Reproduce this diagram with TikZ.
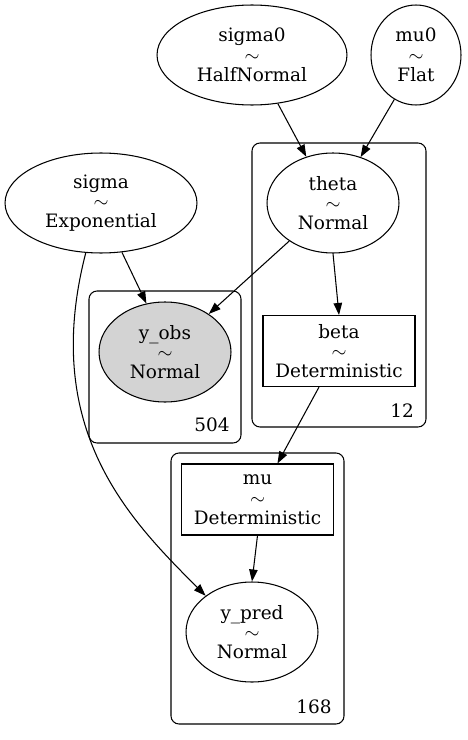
\documentclass[tikz,border=0pt]{standalone}
\usepackage{fontspec}
\setmainfont{DejaVu Serif}
\usetikzlibrary{shapes.geometric, arrows.meta}

\begin{document}
\begin{tikzpicture}[x=0.02cm, y=-0.02cm, line width=0.6pt,
    >={Triangle[length=0.24cm, width=0.17cm]},
    every node/.style={font=\fontsize{10.5}{11.3}\selectfont, align=center, inner sep=0pt},
    rv/.style={draw, ellipse, minimum height=2cm},
    det/.style={draw, rectangle, minimum width=3.04cm, minimum height=1.42cm},
    plate/.style={draw, rounded corners=0.16cm}]
  \useasboundingbox (0,0) rectangle (467,740);

  % Plates
  \draw[plate] (252,143) rectangle (426,427);
  \draw[plate] (89,291) rectangle (241,443);
  \draw[plate] (171,453) rectangle (344,724);
  \node (ntheta) at (402,411) {12};
  \node (nobs) at (212,425) {504};
  \node (npred) at (314,707) {168};

  % Variables
  \node[rv, minimum width=3.8cm] (sigmazero) at (252,55) {sigma0\\$\sim$\\HalfNormal};
  \node[rv, minimum width=1.8cm] (muzero) at (416,55) {mu0\\$\sim$\\Flat};
  \node[rv, minimum width=3.84cm] (sigma) at (101,203) {sigma\\$\sim$\\Exponential};
  \node[rv, minimum width=2.64cm] (theta) at (333,203) {theta\\$\sim$\\Normal};
  \node[rv, minimum width=2.64cm, fill={rgb,255:red,211;green,211;blue,211}] (yobs) at (165,352) {y\_obs\\$\sim$\\Normal};
  \node[det] (beta) at (339,351) {beta\\$\sim$\\Deterministic};
  \node[det] (mu) at (257.5,499.5) {mu\\$\sim$\\Deterministic};
  \node[rv, minimum width=2.64cm] (ypred) at (252,632) {y\_pred\\$\sim$\\Normal};

  % Edges
  \draw[->] (sigmazero.-62) -- (theta.120);
  \draw[->] (muzero.-116) -- (theta.59);
  \draw[->] (sigma.-67) -- (yobs.111);
  \draw[->] (theta.-139) -- (yobs.41);
  \draw[->] (theta.south) -- (beta.north);
  \draw[->] (beta.-119) -- (mu.61);
  \draw[->] (mu.south) -- (ypred.north);
  \draw[->] (sigma.-107) .. controls (40,430) and (130,520) .. (ypred.142);
\end{tikzpicture}
\end{document}
